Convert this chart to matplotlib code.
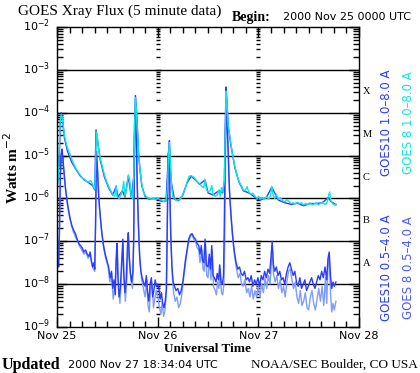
import numpy as np
import matplotlib
matplotlib.use('Agg')
import matplotlib.pyplot as plt
from matplotlib.ticker import FixedLocator, NullFormatter
from matplotlib.transforms import ScaledTranslation

# Hours since 2000 Nov 25 00:00 UTC, values are log10(W m^-2)

# GOES 8 long channel (1.0-8.0 A)
g8_long_t = [0.0, 0.3, 0.6, 0.8, 1.0, 1.2, 1.5, 1.8, 2.2, 2.6, 3.0, 3.5, 4.0, 4.5, 5.0, 5.5, 6.0, 6.5, 7.0, 7.5,
             8.0, 8.4, 8.8, 9.0, 9.2, 9.4, 9.6, 9.9, 10.3, 10.8, 11.3, 11.8, 12.3, 12.8, 13.3, 13.8, 14.1, 14.3,
             14.8, 15.2, 15.6, 15.9, 16.2, 16.6, 17.0, 17.3, 17.7, 18.0, 18.3, 18.5, 18.7, 18.9, 19.2, 19.5, 19.8,
             20.2, 20.6, 21.0, 21.5, 22.0, 22.5, 23.0, 23.5, 24.0, 24.5, 25.0, 25.5, 26.0, 26.3, 26.6, 26.8, 27.0,
             27.3, 27.6, 28.0, 28.5, 29.0, 29.5, 30.0, 30.5, 31.0, 31.5, 32.0, 32.5, 33.0, 33.5, 34.0, 34.5, 35.0,
             35.3, 35.6, 36.0, 36.5, 36.9, 37.2, 37.7, 38.2, 38.6, 38.9, 39.2, 39.5, 39.9, 40.1, 40.3, 40.5, 40.8,
             41.1, 41.5, 41.9, 42.4, 42.9, 43.4, 43.9, 44.4, 44.9, 45.3, 45.7, 46.2, 46.7, 47.2, 47.7, 48.1, 48.4,
             48.9, 49.4, 49.9, 50.4, 50.9, 51.2, 51.5, 51.9, 52.3, 52.8, 53.3, 53.8, 54.3, 54.8, 55.3, 55.8, 56.3,
             56.8, 57.3, 57.8, 58.3, 58.8, 59.3, 59.8, 60.3, 60.8, 61.3, 61.8, 62.3, 62.8, 63.3, 63.8, 64.3, 64.7,
             65.0, 65.3, 65.7, 66.1, 66.5]
g8_long = [-5.70, -5.60, -4.60, -4.15, -4.05, -4.08, -4.30, -4.55, -4.72, -4.85, -4.95, -5.08, -5.20, -5.30, -5.38,
           -5.45, -5.52, -5.55, -5.60, -5.62, -5.58, -5.65, -5.75, -5.78, -5.30, -4.45, -4.55, -4.85, -5.05, -5.25,
           -5.45, -5.60, -5.72, -5.82, -5.90, -5.95, -5.70, -5.95, -6.00, -5.92, -5.80, -5.60, -5.95, -5.75, -5.45,
           -5.55, -5.95, -6.00, -5.50, -4.30, -3.65, -3.90, -4.50, -5.00, -5.35, -5.65, -5.85, -5.92, -5.98, -6.00,
           -6.02, -5.98, -6.03, -6.00, -6.02, -6.05, -6.08, -6.04, -5.80, -4.95, -4.70, -5.10, -5.70, -5.95, -6.00,
           -6.05, -6.03, -6.00, -5.90, -5.78, -5.62, -5.48, -5.47, -5.50, -5.55, -5.62, -5.65, -5.72, -5.75, -5.55,
           -5.78, -5.85, -5.82, -5.70, -5.90, -5.95, -5.92, -5.80, -5.95, -5.75, -5.85, -5.60, -4.50, -3.50, -3.75,
           -4.30, -4.50, -4.75, -5.00, -5.25, -5.45, -5.60, -5.70, -5.80, -5.82, -5.72, -5.85, -5.90, -5.88, -5.95,
           -6.00, -5.95, -6.02, -5.98, -6.03, -5.96, -6.02, -5.95, -5.72, -5.92, -6.00, -5.90, -6.02, -5.98, -6.05,
           -6.08, -6.03, -6.07, -6.12, -6.10, -6.13, -6.09, -6.12, -6.10, -6.15, -6.12, -6.14, -6.10, -6.15, -6.13,
           -6.10, -6.15, -6.12, -6.08, -6.14, -6.12, -5.95, -5.85, -6.05, -6.12, -6.15, -6.13]

# GOES 10 long channel (1.0-8.0 A)
g10_long_t = [0.0, 0.5, 0.8, 1.0, 1.3, 1.8, 2.5, 3.5, 4.5, 5.5, 6.5, 7.5, 8.5, 9.0, 9.3, 9.6, 10.3, 11.3, 12.3,
              13.3, 14.1, 14.5, 15.6, 16.2, 17.0, 17.7, 18.3, 18.5, 18.7, 19.0, 19.5, 20.2, 21.0, 22.0, 23.0, 24.0,
              25.0, 26.0, 26.6, 26.8, 27.2, 28.0, 29.0, 30.0, 31.0, 32.0, 33.0, 34.0, 35.3, 36.0, 37.2, 38.6, 39.5,
              39.9, 40.1, 40.3, 40.5, 40.8, 41.5, 42.4, 43.4, 44.4, 45.7, 47.2, 48.4, 49.9, 51.2, 52.8, 54.3, 55.8,
              57.3, 58.8, 60.3, 61.8, 63.3, 64.7, 65.3, 66.5]
g10_long = [-5.72, -5.20, -4.20, -4.00, -4.15, -4.60, -4.90, -5.15, -5.32, -5.47, -5.57, -5.63, -5.70, -5.80, -4.40,
            -4.60, -5.10, -5.50, -5.75, -5.92, -5.72, -5.97, -5.82, -5.97, -5.48, -5.97, -5.50, -4.20, -3.60, -4.00,
            -5.05, -5.70, -5.95, -6.02, -6.00, -6.02, -6.07, -6.06, -4.90, -4.65, -5.60, -6.02, -6.05, -5.92, -5.64,
            -5.48, -5.57, -5.67, -5.57, -5.87, -5.92, -5.82, -5.87, -5.60, -4.40, -3.40, -3.70, -4.30, -4.78, -5.28,
            -5.62, -5.82, -5.87, -5.97, -6.04, -5.98, -5.74, -6.04, -6.10, -6.14, -6.11, -6.17, -6.12, -6.12, -6.10,
            -5.97, -6.07, -6.15]

# GOES 10 short channel (0.5-4.0 A)
g10_short_t = [0.0, 0.2, 0.4, 0.6, 0.8, 1.0, 1.2, 1.4, 1.7, 2.0, 2.4, 2.8, 3.2, 3.6, 4.0, 4.4, 4.8, 5.2, 5.6, 6.0,
               6.4, 6.8, 7.2, 7.6, 7.9, 8.2, 8.5, 8.8, 9.0, 9.2, 9.4, 9.6, 9.9, 10.3, 10.7, 11.1, 11.5, 11.9, 12.3,
               12.7, 13.0, 13.3, 13.6, 13.9, 14.1, 14.3, 14.5, 14.8, 15.1, 15.4, 15.7, 15.9, 16.2, 16.5, 16.8, 17.0,
               17.2, 17.5, 17.8, 18.1, 18.3, 18.5, 18.7, 18.9, 19.1, 19.4, 19.7, 20.0, 20.3, 20.6, 21.0, 21.3, 21.6,
               21.9, 22.2, 22.5, 22.8, 23.1, 23.4, 23.7, 24.0, 24.3, 24.6, 24.9, 25.2, 25.5, 25.8, 26.1, 26.3, 26.5,
               26.7, 26.9, 27.1, 27.4, 27.7, 28.0, 28.4, 28.8, 29.2, 29.6, 30.0, 30.3, 30.6, 31.0, 31.4, 31.8, 32.2,
               32.6, 33.0, 33.4, 33.8, 34.1, 34.4, 34.7, 35.0, 35.3, 35.6, 36.0, 36.3, 36.6, 36.9, 37.2, 37.5, 37.9,
               38.2, 38.5, 38.8, 39.1, 39.4, 39.7, 39.9, 40.1, 40.3, 40.5, 40.8, 41.1, 41.5, 41.9, 42.3, 42.7, 43.1,
               43.5, 43.9, 44.3, 44.7, 45.1, 45.5, 45.9, 46.3, 46.7, 47.1, 47.5, 47.9, 48.3, 48.7, 49.1, 49.5, 49.9,
               50.3, 50.7, 51.0, 51.3, 51.6, 51.9, 52.3, 52.7, 53.1, 53.5, 53.9, 54.3, 54.7, 55.1, 55.5, 55.9, 56.3,
               56.7, 57.1, 57.5, 57.9, 58.3, 58.7, 59.1, 59.5, 59.9, 60.3, 60.7, 61.1, 61.5, 61.9, 62.3, 62.7, 63.1,
               63.5, 63.9, 64.3, 64.6, 64.9, 65.2, 65.5, 65.8, 66.1, 66.5]
g10_short = [-7.55, -7.45, -7.60, -6.60, -5.40, -4.95, -4.85, -5.05, -5.40, -5.75, -6.05, -6.30, -6.50, -6.65, -6.75,
             -6.82, -6.95, -7.05, -7.10, -7.15, -7.25, -7.20, -7.30, -7.35, -7.25, -7.45, -7.60, -7.50, -7.65, -6.50,
             -4.90, -5.20, -5.90, -6.40, -6.80, -7.10, -7.30, -7.45, -7.60, -7.85, -7.70, -8.10, -7.90, -8.25, -7.40,
             -7.05, -7.80, -8.30, -8.10, -7.50, -6.95, -7.70, -8.20, -7.90, -7.10, -6.80, -7.30, -7.75, -7.95, -7.70,
             -6.80, -4.50, -3.95, -4.50, -5.60, -6.60, -7.35, -7.70, -7.85, -7.95, -8.05, -7.80, -8.20, -8.40, -8.00,
             -7.85, -8.30, -8.15, -7.90, -8.05, -8.00, -8.10, -8.35, -8.20, -8.45, -8.55, -8.40, -8.10, -6.50, -5.00,
             -4.85, -5.80, -6.80, -7.60, -7.95, -8.05, -8.15, -8.10, -8.25, -8.15, -7.95, -7.70, -7.45, -7.20, -6.95,
             -6.85, -6.82, -6.90, -6.95, -7.05, -7.10, -7.30, -7.10, -7.45, -7.50, -6.95, -7.55, -7.60, -7.30, -7.65,
             -7.10, -7.80, -7.85, -7.95, -7.75, -7.90, -7.55, -7.95, -8.00, -7.80, -6.50, -4.80, -3.85, -4.10, -4.90,
             -5.80, -6.40, -6.90, -7.25, -7.50, -7.65, -7.60, -7.75, -7.80, -7.70, -7.90, -7.85, -7.95, -7.80, -8.05,
             -7.90, -8.00, -7.85, -8.05, -7.80, -7.90, -7.70, -7.85, -7.65, -7.75, -7.40, -7.00, -7.55, -7.70, -7.60,
             -7.80, -7.70, -7.90, -7.85, -8.00, -7.75, -7.60, -7.50, -7.65, -7.80, -7.70, -7.95, -8.05, -7.85, -8.10,
             -8.00, -7.90, -8.15, -8.05, -7.95, -7.85, -8.00, -8.10, -7.95, -7.80, -7.90, -7.70, -7.85, -7.60, -7.90,
             -7.40, -7.25, -7.80, -8.10, -7.95, -8.05, -7.95]

# GOES 8 short channel (0.5-4.0 A)
g8_short_t = [0.0, 0.3, 0.6, 0.8, 1.0, 1.2, 1.5, 1.9, 2.4, 2.9, 3.4, 3.9, 4.4, 4.9, 5.4, 5.9, 6.4, 6.9, 7.4, 7.9,
              8.3, 8.7, 9.0, 9.2, 9.4, 9.7, 10.1, 10.6, 11.1, 11.6, 12.1, 12.6, 13.0, 13.4, 13.8, 14.1, 14.4, 14.7,
              15.0, 15.4, 15.7, 16.0, 16.3, 16.7, 17.0, 17.3, 17.6, 18.0, 18.3, 18.5, 18.7, 18.9, 19.2, 19.5, 19.8,
              20.2, 20.6, 21.0, 21.4, 21.7, 22.0, 22.3, 22.7, 23.0, 23.3, 23.7, 24.1, 24.4, 24.8, 25.1, 25.4, 25.7,
              26.0, 26.3, 26.5, 26.7, 26.9, 27.2, 27.5, 27.8, 28.2, 28.6, 29.0, 29.4, 29.8, 30.2, 30.6, 31.0, 31.4,
              31.8, 32.2, 32.6, 33.0, 33.4, 33.8, 34.1, 34.5, 34.8, 35.1, 35.4, 35.7, 36.0, 36.4, 36.7, 37.0, 37.3,
              37.7, 38.0, 38.3, 38.6, 38.9, 39.2, 39.5, 39.8, 40.0, 40.2, 40.4, 40.6, 40.9, 41.2, 41.6, 42.0, 42.4,
              42.8, 43.2, 43.6, 44.0, 44.4, 44.8, 45.2, 45.6, 46.0, 46.4, 46.8, 47.2, 47.6, 48.0, 48.4, 48.8, 49.2,
              49.6, 50.0, 50.4, 50.8, 51.1, 51.3, 51.6, 52.0, 52.4, 52.8, 53.2, 53.6, 54.0, 54.4, 54.8, 55.2, 55.6,
              56.0, 56.4, 56.8, 57.2, 57.6, 58.0, 58.4, 58.8, 59.2, 59.6, 60.0, 60.4, 60.8, 61.2, 61.6, 62.0, 62.4,
              62.8, 63.2, 63.6, 64.0, 64.3, 64.6, 64.9, 65.2, 65.5, 65.8, 66.1, 66.5]
g8_short = [-7.60, -7.50, -6.80, -5.50, -5.00, -4.90, -5.25, -5.65, -6.10, -6.40, -6.62, -6.78, -6.90, -7.00, -7.12,
            -7.20, -7.30, -7.25, -7.40, -7.30, -7.55, -7.65, -7.70, -6.70, -5.00, -5.40, -6.20, -6.75, -7.15, -7.40,
            -7.55, -7.95, -7.75, -8.35, -8.05, -7.50, -7.20, -8.10, -8.45, -7.70, -7.05, -7.95, -8.40, -7.80, -6.90,
            -7.50, -7.90, -8.10, -7.00, -4.60, -4.00, -4.60, -5.90, -6.90, -7.50, -7.90, -8.10, -8.30, -7.90, -8.50,
            -8.65, -8.10, -8.00, -8.55, -8.35, -8.15, -8.30, -8.55, -8.70, -8.40, -8.75, -8.65, -8.30, -6.70, -5.10,
            -4.90, -5.90, -7.10, -7.80, -8.20, -8.40, -8.30, -8.55, -8.45, -8.20, -7.85, -7.55, -7.25, -7.00, -6.88,
            -6.85, -6.95, -7.00, -7.15, -7.20, -7.50, -7.20, -7.65, -7.70, -7.05, -7.80, -7.85, -7.40, -7.90, -7.20,
            -8.05, -8.15, -8.25, -7.95, -8.10, -7.65, -8.20, -8.25, -8.00, -6.80, -4.90, -3.95, -4.20, -5.10, -6.00,
            -6.60, -7.05, -7.40, -7.65, -7.85, -7.75, -8.00, -8.05, -7.90, -8.20, -8.10, -8.30, -8.05, -8.35, -8.15,
            -8.30, -8.05, -8.30, -8.00, -8.20, -7.85, -8.10, -7.80, -8.00, -7.50, -7.10, -7.75, -7.95, -7.80, -8.10,
            -7.90, -8.20, -8.05, -8.30, -7.95, -7.70, -7.65, -7.90, -8.10, -7.95, -8.30, -8.45, -8.15, -8.50, -8.40,
            -8.20, -8.55, -8.60, -8.30, -8.15, -8.45, -8.60, -8.35, -8.10, -8.40, -8.05, -8.50, -7.85, -8.45, -7.60,
            -7.35, -8.20, -8.65, -8.45, -8.60, -8.40]

day_labels = ['Nov 25', 'Nov 26', 'Nov 27', 'Nov 28']
flare_classes = ['X', 'M', 'C', 'B', 'A']
legend_long = ['GOES10 1.0\u20138.0 A', 'GOES 8 1.0\u20138.0 A']
legend_short = ['GOES10 0.5\u20134.0 A', 'GOES 8 0.5\u20134.0 A']

c_g10 = '#2a3cff'
c_g8_short = '#7f9cff'
c_g8_long = '#10e4e4'
serif = 'Liberation Serif'

plt.rcParams['mathtext.fontset'] = 'dejavusans'

W, H = 420, 373
fig = plt.figure(figsize=(W / 100, H / 100), dpi=100)
ax = fig.add_axes([57 / W, 1 - 327 / H, 302 / W, 300 / H])

# flux lines
ax.plot(g8_short_t, 10 ** np.array(g8_short), color=c_g8_short, lw=1)
ax.plot(g10_short_t, 10 ** np.array(g10_short), color=c_g10, lw=1)
ax.plot(g10_long_t, 10 ** np.array(g10_long), color=c_g10, lw=1)
ax.plot(g8_long_t, 10 ** np.array(g8_long), color=c_g8_long, lw=1)

ax.set_yscale('log')
ax.set_ylim(1e-9, 1e-2)
ax.set_xlim(0, 72)

# flare class lines
for e in range(-8, -2):
    ax.axhline(10.0 ** e, color='black', lw=1, zorder=0.5)

# day boundary tick columns
minor_vals = [k * 10.0 ** e for e in range(-9, -2) for k in range(2, 10)]
for d in (24, 48):
    ax.plot([d] * len(minor_vals), minor_vals, ls='none', marker='_', ms=3, mew=1, color='black', zorder=0.4)
    ax.plot([d] * 8, [10.0 ** e for e in range(-9, -1)], ls='none', marker='_', ms=5, mew=1, color='black', zorder=0.4)

ax.xaxis.set_major_locator(FixedLocator([0, 24, 48, 72]))
ax.xaxis.set_minor_locator(FixedLocator(np.arange(0, 73, 3)))
ax.set_xticklabels(day_labels, fontsize=8, family='DejaVu Sans')
ax.yaxis.set_major_locator(FixedLocator([10.0 ** e for e in range(-9, -1)]))
ax.yaxis.set_minor_locator(FixedLocator(minor_vals))
ax.yaxis.set_minor_formatter(NullFormatter())
ax.set_yticklabels(['$10^{%d}$' % e for e in range(-9, -1)], fontsize=8)
ax.tick_params(which='both', direction='in', top=True, right=True, width=1, colors='black')
ax.tick_params(which='major', length=7)
ax.tick_params(which='minor', length=4)
ax.tick_params(axis='x', pad=3)
ax.tick_params(axis='y', pad=5)
for s in ax.spines.values():
    s.set_linewidth(1)

# nudge the decade labels up a little, as in the original
for lab in ax.get_yticklabels():
    lab.set_transform(lab.get_transform() + ScaledTranslation(0, 3 / 100, fig.dpi_scale_trans))

# axis titles
fig.text(207 / W, 1 - 349 / H, 'Universal Time', family=serif, fontweight='bold', fontsize=9.5,
         ha='center', va='center')
fig.text(12 / W, 1 - 168 / H, 'Watts m$^{-2}$', family=serif, fontweight='bold', fontsize=11,
         rotation=90, ha='center', va='center')

# flare class letters
for i, c in enumerate(flare_classes):
    fig.text(363 / W, 1 - (92 + i * 42.86) / H, c, family=serif, fontsize=7.5, va='center', ha='left')

# right side legend
fig.text(387 / W, 1 - 123 / H, legend_long[0], rotation=90, color=c_g10, fontsize=8.5, ha='center', va='center')
fig.text(408 / W, 1 - 123 / H, legend_long[1], rotation=90, color=c_g8_long, fontsize=8.5, ha='center', va='center')
fig.text(387 / W, 1 - 268 / H, legend_short[0], rotation=90, color=c_g10, fontsize=8.5, ha='center', va='center')
fig.text(408 / W, 1 - 268 / H, legend_short[1], rotation=90, color='#4a5cff', fontsize=8.5, ha='center', va='center')

# header and footer
fig.text(18 / W, 1 - 11 / H, 'GOES Xray Flux (5 minute data)', family=serif, fontsize=11, va='center')
fig.text(232 / W, 1 - 17 / H, 'Begin:', family=serif, fontweight='bold', fontsize=10, va='center')
fig.text(411 / W, 1 - 17 / H, '2000 Nov 25 0000 UTC', fontsize=8, va='center', ha='right')
fig.text(2 / W, 1 - 365 / H, 'Updated', family=serif, fontweight='bold', fontsize=11.5, va='center')
fig.text(68 / W, 1 - 365 / H, '2000 Nov 27 18:34:04 UTC', fontsize=8, va='center')
fig.text(418 / W, 1 - 365 / H, 'NOAA/SEC Boulder, CO USA', family=serif, fontsize=9.5, va='center', ha='right')

fig.savefig('out.png', dpi=100)
